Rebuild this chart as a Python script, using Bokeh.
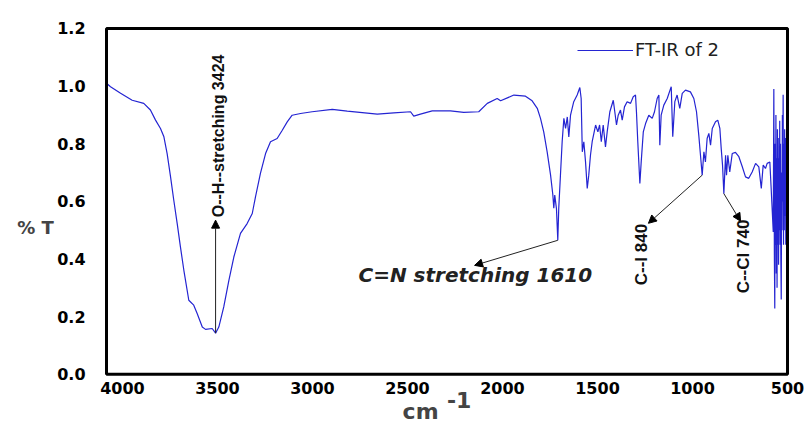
from bokeh.plotting import figure
from bokeh.models import (Range1d, FixedTicker, Label, Arrow, NormalHead,
                          PrintfTickFormatter, BoxAnnotation)
from bokeh.embed import file_html
from bokeh.resources import INLINE

# FT-IR spectrum of compound 2: wavenumber (cm-1) and transmittance
wavenumber = [4084, 4063, 4010, 3949, 3888, 3853, 3826, 3800, 3782, 3765,
              3747, 3730, 3712, 3695, 3677, 3651, 3625, 3607, 3580, 3563,
              3528, 3510, 3493, 3467, 3440, 3414, 3379, 3344, 3317, 3300,
              3274, 3247, 3221, 3186, 3159, 3133, 3107, 3063, 3002, 2896,
              2817, 2659, 2572, 2484, 2467, 2432, 2370, 2274, 2204, 2125,
              2080, 2028, 2010, 1940, 1879, 1844, 1817, 1800, 1783, 1765,
              1747, 1735, 1730, 1725, 1716, 1709, 1704, 1695, 1686, 1677,
              1668, 1659, 1651, 1642, 1625, 1607, 1593, 1586, 1580, 1572,
              1563, 1554, 1546, 1537, 1528, 1519, 1510, 1498, 1489, 1480,
              1470, 1458, 1449, 1435, 1417, 1409, 1400, 1391, 1379, 1370,
              1358, 1344, 1326, 1312, 1300, 1295, 1288, 1277, 1270, 1259,
              1247, 1230, 1212, 1200, 1186, 1177, 1172, 1165, 1151, 1133,
              1112, 1104, 1093, 1081, 1067, 1054, 1037, 1011, 993, 979,
              967, 958, 949, 940, 932, 923, 914, 905, 896, 879,
              867, 856, 849, 842, 835, 826, 821, 814, 804, 791,
              774, 756, 738, 721, 704, 686, 668, 651, 638, 628,
              616, 607, 593, 586, 575, 572, 569, 567, 565, 563,
              561, 559, 557, 555, 553, 551, 549, 547, 545, 543,
              541, 539, 537, 535, 533, 531, 529, 527, 525, 523,
              521, 519, 517, 515, 513, 511, 509, 507, 505, 503, 501]

transmittance = [1.01, 0.998, 0.975, 0.951, 0.940, 0.917, 0.882, 0.853, 0.824, 0.766,
                 0.685, 0.604, 0.523, 0.442, 0.361, 0.257, 0.240, 0.211, 0.164, 0.156,
                 0.159, 0.143, 0.164, 0.234, 0.326, 0.407, 0.489, 0.523, 0.558, 0.616,
                 0.697, 0.766, 0.807, 0.818, 0.847, 0.876, 0.899, 0.905, 0.911, 0.919,
                 0.913, 0.903, 0.907, 0.911, 0.896, 0.903, 0.914, 0.914, 0.909, 0.911,
                 0.940, 0.957, 0.949, 0.969, 0.965, 0.949, 0.923, 0.888, 0.841, 0.772,
                 0.691, 0.622, 0.576, 0.622, 0.575, 0.465, 0.575, 0.691, 0.807, 0.888,
                 0.853, 0.893, 0.824, 0.899, 0.946, 0.969, 0.995, 0.957, 0.772, 0.807,
                 0.737, 0.645, 0.691, 0.760, 0.807, 0.836, 0.865, 0.841, 0.865, 0.807,
                 0.865, 0.789, 0.841, 0.911, 0.951, 0.911, 0.865, 0.899, 0.917, 0.882,
                 0.928, 0.946, 0.940, 0.963, 0.969, 0.911, 0.807, 0.662, 0.737, 0.841,
                 0.870, 0.899, 0.888, 0.911, 0.957, 0.969, 0.795, 0.899, 0.934, 0.957,
                 0.998, 0.824, 0.946, 0.969, 0.923, 0.975, 0.986, 0.980, 0.957, 0.911,
                 0.830, 0.760, 0.691, 0.772, 0.737, 0.818, 0.836, 0.795, 0.853, 0.876,
                 0.882, 0.853, 0.784, 0.726, 0.627, 0.760, 0.691, 0.760, 0.702, 0.766,
                 0.770, 0.755, 0.720, 0.685, 0.680, 0.702, 0.732, 0.720, 0.645, 0.726,
                 0.714, 0.732, 0.737, 0.645, 0.494, 0.990, 0.40, 0.228, 0.80, 0.45,
                 0.90, 0.35, 0.75, 0.30, 0.85, 0.45, 0.82, 0.38, 0.75, 0.50,
                 0.88, 0.45, 0.80, 0.40, 0.26, 0.70, 0.50, 0.90, 0.60, 0.97,
                 0.45, 0.80, 0.50, 0.85, 0.55, 0.82, 0.45, 0.80, 0.55, 0.78, 0.60]

x_ticks = [4000, 3500, 3000, 2500, 2000, 1500, 1000, 500]
y_ticks = [0.0, 0.2, 0.4, 0.6, 0.8, 1.0, 1.2]

# band assignments: text and the spectrum point each arrow starts from
band_labels = ["O--H--stretching 3424", "C=N stretching 1610", "C--I 840", "C--Cl 740"]
band_points = [3510, 1709, 949, 835]

series_name = "FT-IR of 2"

# the frame fills the canvas; the boxed data area spans 4084..500 cm-1 and 0..1.2
p = figure(width=810, height=426, output_backend="svg", toolbar_location=None,
           x_range=Range1d(4642, 379), y_range=Range1d(-0.181, 1.297),
           min_border=0, min_border_left=0, min_border_right=0,
           min_border_top=0, min_border_bottom=0, outline_line_color=None)

p.line(wavenumber, transmittance, line_color="#2424d2", line_width=1.2, legend_label=series_name)

p.add_layout(BoxAnnotation(left=500, right=4084, bottom=0, top=1.2, fill_color=None,
                           line_color="black", line_width=3, line_alpha=1))
p.xgrid.visible = False
p.ygrid.visible = False

for ax in (p.xaxis[0], p.yaxis[0]):
    ax.axis_line_color = None
    ax.major_tick_line_color = None
    ax.minor_tick_line_color = None
    ax.major_label_text_font = "DejaVu Sans"
    ax.major_label_text_font_style = "bold"
    ax.major_label_text_font_size = "16px"
    ax.major_label_text_color = "black"

p.xaxis[0].fixed_location = 0
p.yaxis[0].fixed_location = 4084
p.xaxis[0].ticker = FixedTicker(ticks=x_ticks)
p.yaxis[0].ticker = FixedTicker(ticks=y_ticks)
p.yaxis[0].formatter = PrintfTickFormatter(format="%.1f")
p.xaxis[0].major_label_standoff = 2
p.yaxis[0].major_label_standoff = 15

# axis titles
p.add_layout(Label(x=4458, y=0.51, text="% T", text_font="DejaVu Sans", text_font_style="bold",
                   text_font_size="18px", text_align="center", text_baseline="middle"))
p.add_layout(Label(x=2431, y=-0.128, text="cm", text_font="DejaVu Sans", text_font_style="bold",
                   text_font_size="22px", text_align="center", text_baseline="middle"))
p.add_layout(Label(x=2228, y=-0.09, text="-1", text_font="DejaVu Sans", text_font_style="bold",
                   text_font_size="22px", text_align="center", text_baseline="middle"))

# legend
lg = p.legend[0]
lg.location = (577, 366)
lg.padding = 0
lg.margin = 0
lg.spacing = 0
lg.glyph_width = 56
lg.glyph_height = 20
lg.label_standoff = 2
lg.border_line_color = None
lg.background_fill_alpha = 0
lg.label_text_font = "DejaVu Sans"
lg.label_text_font_size = "18px"
lg.label_text_color = "#222222"

lookup = dict(zip(wavenumber, transmittance))
tails = [(w, lookup[w]) for w in band_points]

heads = [(3510, 0.535), (2147, 0.378), (1232, 0.524), (747, 0.531)]
for (x0, y0), (x1, y1) in zip(tails, heads):
    p.add_layout(Arrow(x_start=x0, y_start=y0, x_end=x1, y_end=y1,
                       line_color="#222222", line_width=1,
                       end=NormalHead(size=8, fill_color="black", line_color="black")))

# rotated band labels read bottom to top
p.add_layout(Label(x=3494, y=0.545, text=band_labels[0], angle=1.5708, text_font="Liberation Sans",
                   text_font_size="16px", text_align="left", text_baseline="middle",
                   text_font_style="bold", text_color="#111111"))
p.add_layout(Label(x=2758, y=0.344, text=band_labels[1], text_font="DejaVu Sans",
                   text_font_style="bold italic", text_font_size="20px",
                   text_align="left", text_baseline="middle", text_color="#222222"))
p.add_layout(Label(x=1268, y=0.309, text=band_labels[2], angle=1.5708, text_font="Liberation Sans",
                   text_font_size="17px", text_align="left", text_baseline="middle",
                   text_font_style="bold", text_color="#111111"))
p.add_layout(Label(x=732, y=0.281, text=band_labels[3], angle=1.5708, text_font="Liberation Sans",
                   text_font_size="17px", text_align="left", text_baseline="middle",
                   text_font_style="bold", text_color="#111111"))

open("out.html", "w").write(file_html(p, INLINE))
